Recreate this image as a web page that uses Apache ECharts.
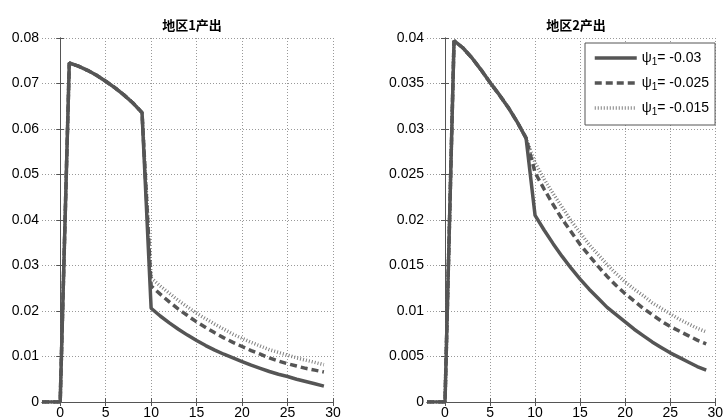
<!DOCTYPE html>
<html>
<head>
<meta charset="utf-8">
<script src="https://cdn.jsdelivr.net/npm/echarts@6/dist/echarts.min.js"></script>
<style>html,body{margin:0;padding:0;background:#fff;}#c{width:726px;height:420px;}</style>
</head>
<body>
<div id="c"></div>
<script>
// ---- data ----
const xs = [-2,-1,0,1,2,3,4,5,6,7,8,9,10,11,12,13,14,15,16,17,18,19,20,21,22,23,24,25,26,27,28,29];
const xTicks = [0,5,10,15,20,25,30];
const seriesNames = ['ψ1= -0.03','ψ1= -0.025','ψ1= -0.015'];
const titles = ['地区1产出','地区2产出'];

// region 1 (x = -2 .. 9 shared by all three cases)
const r1Head = [0,0,0,0.0745,0.0738,0.0729,0.0718,0.0705,0.0691,0.0675,0.0657,0.0636];
// x = 10 .. 29
const r1Solid = [0.0206,0.0189,0.0174,0.0160,0.0147,0.0135,0.0124,0.0114,0.0105,0.0097,0.0089,0.0081,0.0074,0.0067,0.0061,0.0056,0.0050,0.0045,0.0040,0.0035];
const r1Dash  = [0.0255,0.0237,0.0220,0.0204,0.0190,0.0176,0.0164,0.0152,0.0141,0.0131,0.0122,0.0113,0.0105,0.0097,0.0090,0.0084,0.0079,0.0074,0.0070,0.0066];
const r1Dot   = [0.0273,0.0255,0.0239,0.0223,0.0209,0.0195,0.0183,0.0171,0.0160,0.0149,0.0140,0.0131,0.0123,0.0115,0.0109,0.0103,0.0097,0.0092,0.0087,0.0082];

// region 2
const r2Head = [0,0,0,0.0397,0.0389,0.0378,0.0365,0.0351,0.0338,0.0324,0.0308,0.0290];
const r2Solid = [0.0205,0.0189,0.0174,0.0160,0.0147,0.0135,0.0124,0.0114,0.0104,0.0096,0.0088,0.0080,0.0073,0.0066,0.0060,0.0054,0.0049,0.0044,0.0039,0.0035];
const r2Dash  = [0.0252,0.0234,0.0217,0.0201,0.0187,0.0173,0.0161,0.0149,0.0138,0.0128,0.0119,0.0111,0.0103,0.0096,0.0089,0.0083,0.0078,0.0073,0.0068,0.0064];
const r2Dot   = [0.0263,0.0245,0.0229,0.0214,0.0199,0.0186,0.0173,0.0162,0.0151,0.0141,0.0132,0.0124,0.0117,0.0109,0.0103,0.0097,0.0091,0.0086,0.0081,0.0077];

// ---- chart ----
const FONT = '"Liberation Sans", Arial, sans-serif';
const AX = '#555';
function pairs(head, tail){ const v = head.concat(tail); return xs.map((x,i)=>[x, v[i]]); }
const styles = [
  {color:'#555', width:3.5, type:'solid'},
  {color:'#555', width:3.5, type:[7,4]},
  {color:'#808080', width:3.5, type:[1,2]}
];
const grids = [
  {left:42, top:38, width:291, height:364},
  {left:427, top:38, width:289, height:364}
];
const xAxes = [], yAxes = [];
const yCfg = [{max:0.08, interval:0.01},{max:0.04, interval:0.005}];
for (let g=0; g<2; g++){
  xAxes.push({type:'value', gridIndex:g, min:-2, max:30, position:'bottom',
    axisLine:{show:true, lineStyle:{color:AX,width:1}},
    axisTick:{show:true, inside:true, length:4, customValues:xTicks, lineStyle:{color:AX}},
    axisLabel:{show:true, customValues:xTicks, color:'#000', fontSize:14, fontFamily:FONT, margin:4},
    splitLine:{show:true, lineStyle:{color:'#999', type:[1,2], width:1}}});
  xAxes.push({type:'value', gridIndex:g, min:-2, max:30, position:'top',
    axisLine:{show:true, lineStyle:{color:AX,width:1}},
    axisTick:{show:true, inside:true, length:4, customValues:xTicks, lineStyle:{color:AX}},
    axisLabel:{show:false}, splitLine:{show:false}});
  yAxes.push({type:'value', gridIndex:g, min:0, max:yCfg[g].max, interval:yCfg[g].interval, position:'left',
    axisLine:{show:true, lineStyle:{color:AX,width:1}},
    axisTick:{show:true, inside:true, length:4, lineStyle:{color:AX}},
    axisLabel:{color:'#000', fontSize:14, fontFamily:FONT, margin:3},
    splitLine:{show:true, lineStyle:{color:'#999', type:[1,2], width:1}}});
  yAxes.push({type:'value', gridIndex:g, min:0, max:yCfg[g].max, interval:yCfg[g].interval, position:'right',
    axisLine:{show:true, lineStyle:{color:AX,width:1}},
    axisTick:{show:true, inside:true, length:4, lineStyle:{color:AX}},
    axisLabel:{show:false}, splitLine:{show:false}});
}
const data = [[r1Head,[r1Solid,r1Dash,r1Dot]],[r2Head,[r2Solid,r2Dash,r2Dot]]];
const series = [];
for (let g=0; g<2; g++){
  for (const k of [2,1,0]){
    series.push({type:'line', name:seriesNames[k], xAxisIndex:g*2, yAxisIndex:g*2,
      data:pairs(data[g][0], data[g][1][k]), symbol:'none', showSymbol:false,
      lineStyle:styles[k], itemStyle:{color:styles[k].color}, z:3+(2-k), animation:false});
  }
}
const chart = echarts.init(document.getElementById('c'), null, {renderer:'canvas'});
chart.setOption({
  animation:false,
  backgroundColor:'#fff',
  title: titles.map((t,i)=>({text:t, left: i===0 ? 187 : 571, top:14, textAlign:'center',
    textStyle:{fontSize:13, fontWeight:'bold', color:'#000', fontFamily:'"Noto Sans CJK SC", sans-serif'}})),
  grid: grids,
  xAxis: xAxes,
  yAxis: yAxes,
  legend: {data:seriesNames, orient:'vertical', left:585, top:43, padding:[8,6,8,8],
    itemWidth:42, itemHeight:14, itemGap:9, backgroundColor:'#fff', borderColor:'#555', borderWidth:1,
    borderRadius:0, selectedMode:false,
    itemStyle:{opacity:0},
    lineStyle:{width:3.5},
    formatter: n => '{a|ψ}{s|1}{a|' + n.slice(2) + '}',
    textStyle:{color:'#000', fontSize:14, fontFamily:FONT,
      rich:{a:{fontSize:14, fontFamily:FONT, lineHeight:18, verticalAlign:'middle', color:'#000'},
            s:{fontSize:10, fontFamily:FONT, verticalAlign:'bottom', color:'#000'}}}},
  series: series
});
</script>
</body>
</html>
